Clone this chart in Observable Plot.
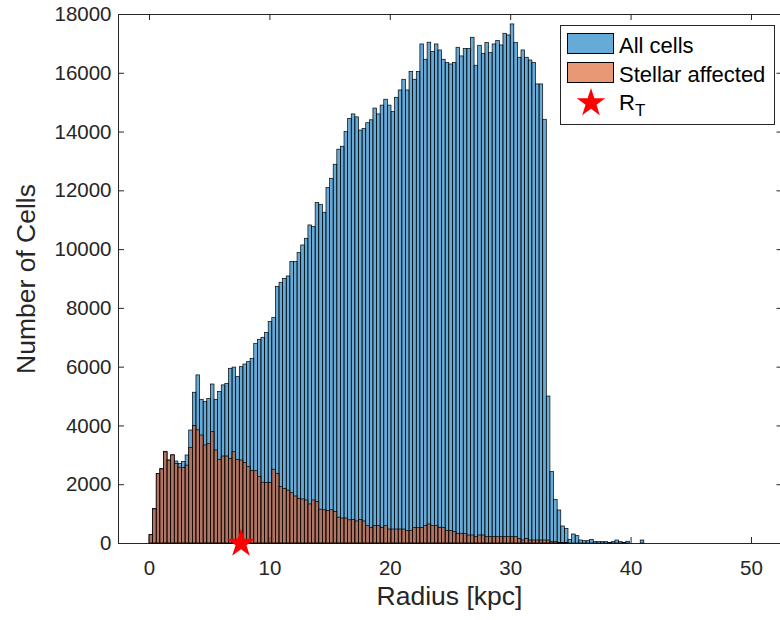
<!DOCTYPE html>
<html><head><meta charset="utf-8">
<script src="https://cdn.jsdelivr.net/npm/d3@7"></script>
<script src="https://cdn.jsdelivr.net/npm/@observablehq/plot@0.6"></script>
<style>
html,body{margin:0;padding:0;background:#fff;overflow:hidden}
#wrap{position:relative;width:780px;height:620px;font-family:"Liberation Sans",Arial,Helvetica,sans-serif;}
#legend{position:absolute;left:560px;top:25px;width:215px;height:100px;border:1px solid #262626;background:#fff;box-sizing:border-box;font-size:22px;color:#000;}
.sw{position:absolute;left:6px;width:47px;height:21px;border:1px solid #000;box-sizing:border-box;}
.lt{position:absolute;left:58px;line-height:22px;white-space:nowrap;}
</style></head>
<body><div id="wrap"></div>
<script>
const binWidth = 0.3;
const allCells = [290,1170,2370,2530,3120,2825,3000,2790,2710,2770,
 2995,3845,5130,5720,4890,4810,4920,5410,4890,5150,
 5380,5430,5945,5985,5660,6000,6090,6170,6284,6795,
 6931,7000,7158,7532,7679,8723,8871,9006,9086,9574,
 9574,9880,10141,10368,10822,10765,11581,11525,11253,12092,
 12411,12888,13400,13500,14000,14450,14600,14500,14050,14100,
 14300,14400,14800,14600,14900,15100,14900,14678,15166,15415,
 15779,15415,16040,15779,16040,16981,16460,17040,16721,16981,
 16777,16460,16347,16300,16347,16868,16573,16822,16822,17209,
 16256,16936,16664,17028,16686,16981,17096,16947,17344,17287,
 17662,17028,16528,16777,16528,16436,16347,15620,15620,14418,
 5000,2428,1486,1123,579,499,125,306,250,102,
 79,79,125,45,45,45,45,20,45,102,
 45,20,60,0,0,0,102,0];
const stellarAffected = [280,1160,2370,2520,3100,2820,3000,2700,2580,2575,
 2650,3255,4000,3850,3675,3335,3390,3790,3165,2848,
 2960,2960,2880,3107,2848,2825,2735,2600,2460,2460,
 2260,2070,2060,2060,2510,2370,1920,1860,1800,1710,
 1600,1520,1500,1465,1330,1465,1410,1150,1130,1100,
 1130,1070,880,850,850,790,805,750,805,750,
 590,533,590,590,533,590,476,476,476,476,
 476,420,420,533,533,533,590,647,590,590,
 533,533,420,420,390,330,330,330,272,272,
 215,272,272,215,215,215,215,215,215,215,
 215,215,159,102,159,102,102,102,102,102,
 102,45,45,20,20,20,0,0,0,0,
 0,0,0,0,0,0,0,0,0,0,
 0,0,0,0,0,0,0,0];
const seriesNames = ["All cells", "Stellar affected"];
const seriesColors = ["#0072BD", "#D95319"];
const xTicks = [0, 10, 20, 30, 40, 50];
const yTicks = [0, 2000, 4000, 6000, 8000, 10000, 12000, 14000, 16000, 18000];
const rT = [7.6];
const xLabel = "Radius [kpc]";
const yLabel = "Number of Cells";
const markerName = "R";
const markerSub = "T";

const bins = allCells.map((v, i) => ({x1: i * binWidth, x2: (i + 1) * binWidth, all: v, stellar: stellarAffected[i]}));

const W = 780, H = 620, mL = 118, mR = 0, mT = 14, mB = 77;
const xDom = [-2.575, 52.41], yDom = [0, 18000];
const pxPerX = (W - mL - mR) / (xDom[1] - xDom[0]);
const pxPerY = (H - mT - mB) / (yDom[1] - yDom[0]);
const tX = 6 / pxPerX, tY = 6 / pxPerY, tXr = 3.5 / pxPerX;
const axisColor = "#262626";

const chart = Plot.plot({
  width: W, height: H, marginLeft: mL, marginRight: mR, marginTop: mT, marginBottom: mB,
  x: {domain: xDom, axis: null},
  y: {domain: yDom, axis: null},
  style: {fontFamily: '"Liberation Sans", Arial, Helvetica, sans-serif', background: "#fff", color: axisColor},
  marks: [
    Plot.ruleY([yDom[0], yDom[1]], {stroke: axisColor, strokeWidth: 1}),
    Plot.ruleX([xDom[0]], {stroke: axisColor, strokeWidth: 1}),
    Plot.ruleX(xTicks, {y1: 0, y2: tY, stroke: axisColor}),
    Plot.ruleX(xTicks, {y1: yDom[1] - tY, y2: yDom[1], stroke: axisColor}),
    Plot.ruleY(yTicks, {x1: xDom[0], x2: xDom[0] + tX, stroke: axisColor}),
    Plot.ruleY(yTicks, {x1: xDom[1] - tXr, x2: xDom[1], stroke: axisColor}),
    Plot.rectY(bins.filter(d => d.all > 0), {x1: "x1", x2: "x2", y: "all", fill: seriesColors[0], fillOpacity: 0.6, stroke: "#000", strokeWidth: 0.7}),
    Plot.rectY(bins.filter(d => d.stellar > 0), {x1: "x1", x2: "x2", y: "stellar", fill: seriesColors[1], fillOpacity: 0.6, stroke: "#000", strokeWidth: 0.7}),
    Plot.text(yTicks, {x: xDom[0], y: d => d, text: d => String(d), textAnchor: "end", dx: -7, fontSize: 20.5, fill: axisColor}),
    Plot.text(xTicks, {x: d => d, y: 0, text: d => String(d), dy: 25, fontSize: 20.5, fill: axisColor}),
    Plot.text([xLabel], {frameAnchor: "bottom", dy: 61, fontSize: 26.5, fill: axisColor}),
    Plot.text([yLabel], {frameAnchor: "left", textAnchor: "middle", dx: -92, rotate: -90, fontSize: 26.5, fill: axisColor}),
    Plot.dot(rT, {x: d => d, y: 0, symbol: "star", r: 9, fill: "#ff0000", stroke: "none"})
  ]
});
const wrap = document.getElementById("wrap");
wrap.appendChild(chart);

const lg = document.createElement("div");
lg.id = "legend";
lg.innerHTML =
  `<div class="sw" style="top:7px;background:${seriesColors[0]}99"></div><div class="lt" style="top:9px">${seriesNames[0]}</div>` +
  `<div class="sw" style="top:36px;background:${seriesColors[1]}99"></div><div class="lt" style="top:38px">${seriesNames[1]}</div>` +
  `<svg style="position:absolute;left:14px;top:61px" width="32" height="32" viewBox="-16 -16 32 32"><path d="${d3.symbol(d3.symbolStar, Math.PI*9*9)()}" fill="#ff0000"/></svg>` +
  `<div class="lt" style="top:66px">${markerName}<sub style="font-size:17px;vertical-align:-6px">${markerSub}</sub></div>`;
wrap.appendChild(lg);
</script>
</body></html>
